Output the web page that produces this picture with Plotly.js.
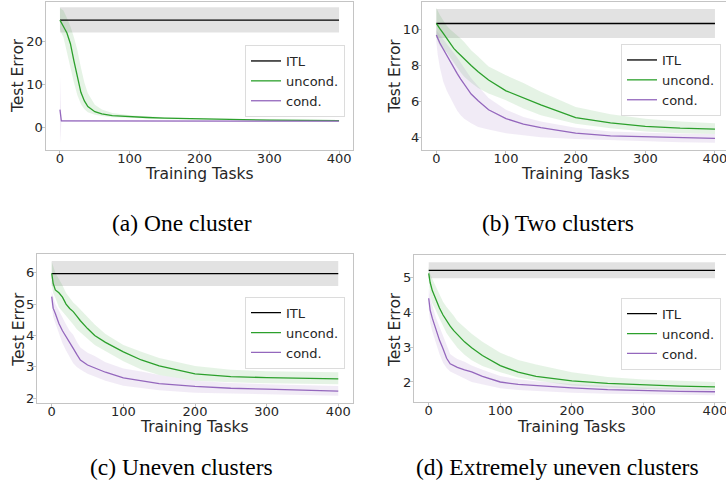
<!DOCTYPE html>
<html>
<head>
<meta charset="utf-8">
<script src="https://cdn.plot.ly/plotly-3.0.1.min.js"></script>
<style>
html,body{margin:0;padding:0;overflow:hidden;background:#fff;width:726px;height:491px;}
#plot{width:740px;height:491px;}
</style>
</head>
<body>
<div id="plot"></div>
<script>
// ---------------- data ----------------
const tasks = [0, 2, 5, 10, 15, 20, 25, 30, 35, 40, 50, 60, 75, 100, 125, 150, 200, 250, 300, 350, 400];
const xTicks = [0, 100, 200, 300, 400];
const captions = ["(a) One cluster", "(b) Two clusters", "(c) Uneven clusters", "(d) Extremely uneven clusters"];
const seriesNames = ["ITL", "uncond.", "cond."];
const xTitle = "Training Tasks";
const yTitle = "Test Error";

// ITL (independent task learning) constant level and band, per panel a..d
const itlMean = [25.0, 10.33, 5.97, 5.2];
const itlLow  = [22.1, 9.53, 5.58, 4.97];
const itlHigh = [28.0, 11.13, 6.37, 5.43];

// (a) One cluster
const uncA    = [25, 24.5, 23.5, 22, 19.5, 15.5, 11.5, 8.2, 6.2, 4.9, 3.7, 3.2, 2.8, 2.5, 2.35, 2.2, 2.0, 1.85, 1.75, 1.7, 1.65];
const uncA_hi = [27.8, 27.6, 27.2, 25.5, 23.5, 21, 18, 14, 10.5, 8, 5.3, 4.2, 3.4, 2.9, 2.6, 2.4, 2.15, 2.0, 1.9, 1.82, 1.75];
const uncA_lo = [23, 22, 21, 18, 14, 10.5, 7.5, 5.5, 4.3, 3.6, 3.0, 2.7, 2.4, 2.2, 2.1, 2.0, 1.85, 1.7, 1.6, 1.55, 1.5];
const conA    = [4.2, 1.55, 1.55, 1.55, 1.55, 1.55, 1.55, 1.55, 1.55, 1.55, 1.55, 1.55, 1.55, 1.55, 1.55, 1.55, 1.53, 1.52, 1.51, 1.5, 1.5];
const conA_hi = [12, 1.8, 1.7, 1.65, 1.65, 1.65, 1.65, 1.65, 1.65, 1.65, 1.65, 1.65, 1.65, 1.65, 1.65, 1.65, 1.63, 1.62, 1.61, 1.6, 1.6];
const conA_lo = [-4, 1.3, 1.4, 1.45, 1.45, 1.45, 1.45, 1.45, 1.45, 1.45, 1.45, 1.45, 1.45, 1.45, 1.45, 1.45, 1.43, 1.42, 1.41, 1.4, 1.4];

// (b) Two clusters
const uncB    = [10.33, 10.2, 10.05, 9.78, 9.5, 9.22, 8.95, 8.75, 8.55, 8.4, 8.0, 7.65, 7.2, 6.6, 6.2, 5.82, 5.11, 4.82, 4.63, 4.53, 4.48];
const uncB_hi = [11.2, 11.0, 10.8, 10.5, 10.2, 10.0, 9.85, 9.7, 9.5, 9.3, 8.85, 8.5, 7.95, 7.46, 7.03, 6.55, 5.7, 5.3, 5.05, 4.9, 4.8];
const uncB_lo = [9.6, 9.35, 9.1, 8.9, 8.72, 8.5, 8.15, 7.9, 7.62, 7.38, 7.05, 6.75, 6.45, 6.07, 5.62, 5.25, 4.78, 4.52, 4.35, 4.25, 4.2];
const conB    = [9.69, 9.5, 9.25, 8.9, 8.55, 8.2, 7.85, 7.55, 7.25, 6.95, 6.42, 6.05, 5.55, 5.06, 4.75, 4.56, 4.26, 4.1, 4.04, 4.0, 3.96];
const conB_hi = [9.95, 9.85, 9.7, 9.5, 9.25, 9.0, 8.7, 8.45, 8.15, 7.85, 7.3, 6.85, 6.2, 5.55, 5.15, 4.9, 4.55, 4.35, 4.27, 4.22, 4.2];
const conB_lo = [9.3, 8.6, 7.9, 7.1, 6.6, 6.2, 5.85, 5.5, 5.25, 5.05, 4.8, 4.6, 4.45, 4.25, 4.12, 4.03, 3.93, 3.86, 3.8, 3.75, 3.72];

// (c) Uneven clusters
const uncC    = [5.98, 5.66, 5.45, 5.36, 5.22, 5.0, 4.86, 4.76, 4.62, 4.47, 4.22, 4.0, 3.78, 3.48, 3.22, 3.03, 2.78, 2.69, 2.66, 2.64, 2.62];
const uncC_hi = [6.35, 6.2, 6.0, 5.8, 5.6, 5.35, 5.2, 5.05, 4.95, 4.83, 4.6, 4.35, 4.05, 3.7, 3.48, 3.28, 3.03, 2.91, 2.86, 2.84, 2.83];
const uncC_lo = [5.61, 5.35, 5.2, 4.9, 4.75, 4.62, 4.48, 4.35, 4.2, 4.12, 3.9, 3.7, 3.5, 3.18, 2.92, 2.74, 2.56, 2.51, 2.48, 2.46, 2.45];
const conC    = [5.24, 4.87, 4.7, 4.38, 4.15, 3.95, 3.75, 3.59, 3.4, 3.22, 3.06, 2.97, 2.83, 2.65, 2.55, 2.47, 2.38, 2.32, 2.29, 2.26, 2.23];
const conC_hi = [5.4, 5.2, 5.0, 4.8, 4.55, 4.35, 4.15, 4.02, 3.8, 3.62, 3.45, 3.35, 3.15, 2.95, 2.85, 2.74, 2.56, 2.49, 2.45, 2.42, 2.39];
const conC_lo = [4.97, 4.6, 4.4, 4.05, 3.75, 3.52, 3.3, 3.12, 3.0, 2.92, 2.78, 2.7, 2.56, 2.4, 2.33, 2.26, 2.18, 2.15, 2.13, 2.1, 2.08];

// (d) Extremely uneven clusters
const uncD    = [5.11, 4.85, 4.62, 4.35, 4.12, 3.92, 3.75, 3.6, 3.47, 3.36, 3.15, 2.98, 2.76, 2.47, 2.28, 2.16, 2.03, 1.96, 1.91, 1.88, 1.86];
const uncD_hi = [5.3, 5.1, 4.95, 4.72, 4.5, 4.3, 4.15, 4.03, 3.9, 3.75, 3.55, 3.38, 3.15, 2.84, 2.63, 2.5, 2.28, 2.14, 2.07, 2.03, 2.0];
const uncD_lo = [4.9, 4.5, 4.25, 4.05, 3.82, 3.6, 3.4, 3.25, 3.1, 2.98, 2.78, 2.62, 2.46, 2.28, 2.13, 2.04, 1.9, 1.84, 1.8, 1.78, 1.77];
const conD    = [4.4, 4.06, 3.83, 3.5, 3.2, 2.95, 2.68, 2.52, 2.46, 2.42, 2.35, 2.29, 2.16, 2.0, 1.93, 1.89, 1.83, 1.78, 1.75, 1.73, 1.72];
const conD_hi = [4.68, 4.45, 4.2, 3.85, 3.6, 3.35, 3.1, 2.8, 2.72, 2.66, 2.58, 2.47, 2.35, 2.17, 2.08, 2.02, 1.94, 1.88, 1.84, 1.82, 1.8];
const conD_lo = [4.1, 3.7, 3.45, 3.1, 2.8, 2.55, 2.4, 2.3, 2.24, 2.2, 2.1, 2.0, 1.92, 1.82, 1.77, 1.73, 1.69, 1.66, 1.64, 1.63, 1.62];

const yTicks = [[0, 10, 20], [4, 6, 8, 10], [2, 3, 4, 5, 6], [2, 3, 4, 5]];

// ---------------- presentation ----------------
const W = 740, H = 491;
const FONT = "DejaVu Sans, sans-serif";
const C_ITL = "#000000", C_UNC = "#2ca02c", C_CON = "#9467bd";
const F_ITL = "rgba(0,0,0,0.115)", F_UNC = "rgba(44,160,44,0.12)", F_CON = "rgba(148,103,189,0.13)";

const panels = [
  {unc: uncA, uncHi: uncA_hi, uncLo: uncA_lo, con: conA, conHi: conA_hi, conLo: conA_lo,
   px: [46, 353], py: [2, 150], yr: [-5.2, 29.2], leg: [245, 45], cap: [181.7, 223],
   xt: [199.5, 174], yt: [18, 76]},
  {unc: uncB, uncHi: uncB_hi, uncLo: uncB_lo, con: conB, conHi: conB_hi, conLo: conB_lo,
   px: [422.4, 728.9], py: [2, 150], yr: [3.32, 11.52], leg: [621, 44], cap: [558, 223],
   xt: [575.5, 174], yt: [394.5, 76]},
  {unc: uncC, uncHi: uncC_hi, uncLo: uncC_lo, con: conC, conHi: conC_hi, conLo: conC_lo,
   px: [37.4, 352.6], py: [254.3, 402.5], yr: [1.866, 6.586], leg: [245, 296.7], cap: [181, 467],
   xt: [195, 426.5], yt: [18.3, 329.5]},
  {unc: uncD, uncHi: uncD_hi, uncLo: uncD_lo, con: conD, conHi: conD_hi, conLo: conD_lo,
   px: [414.4, 729.3], py: [255, 402.3], yr: [1.418, 5.639], leg: [621, 297.7], cap: [557, 467],
   xt: [571.7, 426.5], yt: [394.5, 329.5]}
];

const traces = [];
const layout = {
  width: W, height: H, autosize: false,
  margin: {l: 0, r: 0, t: 0, b: 0},
  paper_bgcolor: "#ffffff", plot_bgcolor: "#ffffff",
  font: {family: FONT, color: "#262626"},
  showlegend: true,
  annotations: []
};

const rev = a => a.slice().reverse();
const loop = tasks.concat(rev(tasks));
const titleFont = {family: FONT, size: 15.5, color: "#262626"};

panels.forEach((p, i) => {
  const s = i === 0 ? "" : String(i + 1);
  const xa = "x" + s, ya = "y" + s;
  const legName = "legend" + s;
  const first = tasks[0], last = tasks[tasks.length - 1];

  traces.push({x: [first, last, last, first], y: [itlLow[i], itlLow[i], itlHigh[i], itlHigh[i]],
    xaxis: xa, yaxis: ya, mode: "lines", fill: "toself", fillcolor: F_ITL,
    line: {width: 0}, showlegend: false, hoverinfo: "skip"});
  traces.push({x: loop, y: p.uncHi.concat(rev(p.uncLo)), xaxis: xa, yaxis: ya,
    mode: "lines", fill: "toself", fillcolor: F_UNC, line: {width: 0},
    showlegend: false, hoverinfo: "skip"});
  traces.push({x: loop, y: p.conHi.concat(rev(p.conLo)), xaxis: xa, yaxis: ya,
    mode: "lines", fill: "toself", fillcolor: F_CON, line: {width: 0},
    showlegend: false, hoverinfo: "skip"});

  traces.push({x: tasks, y: tasks.map(() => itlMean[i]), xaxis: xa, yaxis: ya,
    mode: "lines", name: seriesNames[0], line: {color: C_ITL, width: 1.3}, legend: legName});
  traces.push({x: tasks, y: p.unc, xaxis: xa, yaxis: ya,
    mode: "lines", name: seriesNames[1], line: {color: C_UNC, width: 1.3}, legend: legName});
  traces.push({x: tasks, y: p.con, xaxis: xa, yaxis: ya,
    mode: "lines", name: seriesNames[2], line: {color: C_CON, width: 1.3}, legend: legName});

  const axCommon = {
    showline: true, mirror: true, linecolor: "#c4c4c4", linewidth: 1,
    ticks: "outside", ticklen: 3.5, tickwidth: 1, tickcolor: "#c4c4c4",
    showgrid: false, zeroline: false,
    tickfont: {family: FONT, size: 13, color: "#262626"}
  };
  layout["xaxis" + s] = Object.assign({}, axCommon, {
    domain: [p.px[0] / W, p.px[1] / W], anchor: ya,
    range: [-20, 420], tickmode: "array", tickvals: xTicks,
    ticklabelstandoff: -7
  });
  layout["yaxis" + s] = Object.assign({}, axCommon, {
    domain: [1 - p.py[1] / H, 1 - p.py[0] / H], anchor: xa,
    range: p.yr, tickmode: "array", tickvals: yTicks[i],
    ticklabelstandoff: -4
  });
  layout[legName] = {
    x: p.leg[0] / W, y: 1 - p.leg[1] / H, xanchor: "left", yanchor: "top",
    bgcolor: "rgba(255,255,255,0.85)", bordercolor: "#dcdcdc", borderwidth: 1,
    font: {family: FONT, size: 13, color: "#262626"}, itemwidth: 30, tracegroupgap: 0
  };
  layout.annotations.push({
    text: xTitle, xref: "paper", yref: "paper",
    x: p.xt[0] / W, y: 1 - p.xt[1] / H, xanchor: "center", yanchor: "middle",
    showarrow: false, font: titleFont
  });
  layout.annotations.push({
    text: yTitle, xref: "paper", yref: "paper", textangle: -90,
    x: p.yt[0] / W, y: 1 - p.yt[1] / H, xanchor: "center", yanchor: "middle",
    showarrow: false, font: titleFont
  });
  layout.annotations.push({
    text: captions[i], xref: "paper", yref: "paper",
    x: p.cap[0] / W, y: 1 - p.cap[1] / H, xanchor: "center", yanchor: "middle",
    showarrow: false, font: {family: "Liberation Serif, Times New Roman, serif", size: 23.5, color: "#000"}
  });
});

Plotly.newPlot("plot", traces, layout, {staticPlot: true, displayModeBar: false});
</script>
</body>
</html>
